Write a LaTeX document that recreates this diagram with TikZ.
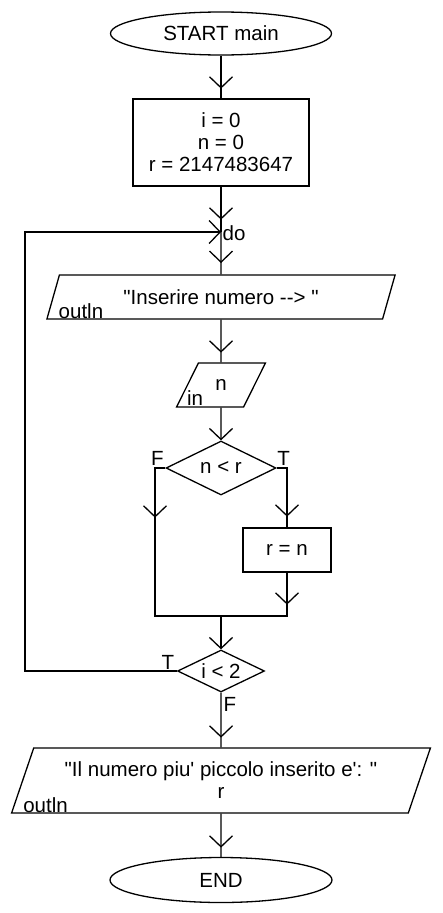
\documentclass[tikz,border=0pt]{standalone}
\usepackage{fontspec}
\setmainfont{Liberation Sans}[Ligatures=TeXOff]
\usetikzlibrary{shapes.geometric,arrows.meta,decorations.markings}
\begin{document}
\begin{tikzpicture}[x=1pt,y=-1pt,line width=1.3pt,
  >={Straight Barb[length=11pt,width=23pt]},
  every node/.style={font=\fontsize{20.5}{22}\selectfont,inner sep=0pt},
  term/.style={ellipse,draw},
  proc/.style={rectangle,draw},
  io/.style={trapezium,draw,trapezium left angle=63.4,trapezium right angle=116.6,trapezium stretches=true},
  dec/.style={diamond,draw,aspect=2},
  arrat/.style={postaction={decorate},decoration={markings,mark=at position #1 with {\arrow{>}}}}]
\fill[white] (0,0) rectangle (442,913);
\useasboundingbox (0,0) rectangle (442,913);

\node[term,minimum width=221pt,minimum height=43pt] (start) at (221,33.5) {START main};
\node[proc,minimum width=176pt,minimum height=87pt,align=center] (init) at (221,142.5) {i = 0\\n = 0\\r = 2147483647};
\coordinate (do) at (221,232);
\node[io,minimum width=349pt,minimum height=44pt] (out1) at (221,297) {"Inserire numero --> "};
\node[io,minimum width=89pt,minimum height=44pt] (in1) at (221,385) {n};
\node[dec,minimum width=110pt,minimum height=54pt] (d1) at (221,468) {n < r};
\node[proc,minimum width=88pt,minimum height=44pt] (b2) at (287,550) {r = n};
\coordinate (jn) at (221,616);
\coordinate (jl) at (155,616);
\node[dec,minimum width=87pt,minimum height=42pt] (d2) at (221,671) {i < 2};
\node[io,minimum width=420pt,minimum height=65pt,align=center] (out2) at (221,780.5) {"Il numero piu' piccolo inserito e': "\\r};
\node[term,minimum width=222pt,minimum height=45pt] (end) at (221,880) {END};
\coordinate (lt) at (25,232);

% labels
\node[anchor=base west] (lo1) at ([shift={(12,-1)}]out1.bottom left corner) {outln};
\node[anchor=base west] (lin) at ([shift={(11,-2)}]in1.bottom left corner) {in};
\node[anchor=base west] (lo2) at ([shift={(12,-1.5)}]out2.bottom left corner) {outln};
\node[anchor=west] (ldo) at ([shift={(1,1)}]do) {do};
\node[anchor=base east] (f1) at ([shift={(-1,-3)}]d1.west) {F};
\node[anchor=base west] (t1) at ([shift={(0,-3)}]d1.east) {T};
\node[anchor=base east] (t2) at ([shift={(-2,-2)}]d2.west) {T};
\node[anchor=base west] (f2) at ([shift={(2,19)}]d2.south) {F};

% connectors
\draw[arrat=33pt] (start.south) -- (init.north);
\draw[arrat=33pt] (init.south) -- (do);
\draw[arrat=31pt] (do) -- (out1.north);
\draw[arrat=33pt] (out1.south) -- (in1.north);
\draw[->] (in1.south) -- (d1.north);
\draw[arrat=60pt] (d1.west) -| (jl) -- (jn);
\draw[arrat=59pt] (d1.east) -| (b2.north);
\draw[arrat=32pt] (b2.south) |- (jn);
\draw[->] (jn) -- (d2.north);
\draw[arrat=45pt] (d2.south) -- (out2.north);
\draw[arrat=34pt] (out2.south) -- (end.north);
\draw[->] (d2.west) -| (lt) -- (do);
\end{tikzpicture}
\end{document}
